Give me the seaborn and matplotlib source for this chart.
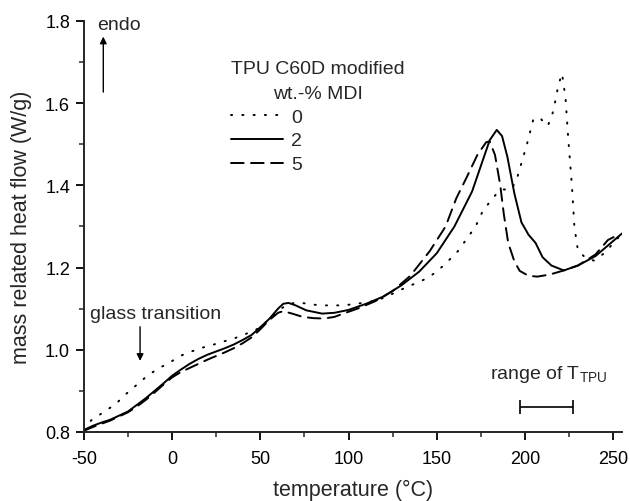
import numpy as np
import pandas as pd
import seaborn as sns
from matplotlib import pyplot as plt
from matplotlib.ticker import MultipleLocator, FormatStrFormatter

# values (temperature in degC, heat flow in W/g)
T_0 = [-50, -46, -39, -32, -26, -20, -14, -8, -1, 4.5, 11, 17, 23, 29, 36, 42, 48, 54, 60,
       66, 72, 78, 84, 97, 110, 116, 122, 129, 136, 144, 150, 156, 162, 167, 172, 176, 181,
       185, 188, 192, 195, 197, 201, 204.7, 208.6, 211, 213, 216, 219, 221, 223, 224.5,
       226.6, 228, 230, 234, 239, 245, 255]
HF_0 = [0.805, 0.828, 0.848, 0.868, 0.893, 0.915, 0.937, 0.954, 0.970, 0.985, 0.996, 1.005,
        1.012, 1.020, 1.029, 1.039, 1.050, 1.070, 1.095, 1.112, 1.115, 1.111, 1.108, 1.108,
        1.115, 1.120, 1.130, 1.145, 1.158, 1.173, 1.190, 1.214, 1.240, 1.270, 1.300, 1.337,
        1.365, 1.385, 1.390, 1.390, 1.410, 1.440, 1.498, 1.560, 1.565, 1.550, 1.545, 1.580,
        1.645, 1.672, 1.612, 1.515, 1.400, 1.300, 1.242, 1.225, 1.217, 1.235, 1.283]

T_2 = [-50, -45, -40, -35, -30, -25, -20, -15, -10, -5, 0, 5, 10, 15, 20, 25, 30, 35, 40, 45,
       50, 55, 60, 63, 66, 70, 76, 85, 92, 100, 110, 120, 130, 140, 150, 160, 170, 176, 180,
       184, 187, 190, 194, 198, 202, 206, 210, 215, 222, 230, 240, 255]
HF_2 = [0.805, 0.815, 0.823, 0.830, 0.840, 0.850, 0.866, 0.882, 0.900, 0.918, 0.937, 0.952,
        0.966, 0.978, 0.988, 0.996, 1.004, 1.013, 1.024, 1.036, 1.055, 1.075, 1.100, 1.112,
        1.114, 1.108, 1.096, 1.088, 1.090, 1.097, 1.112, 1.130, 1.157, 1.190, 1.235, 1.300,
        1.385, 1.460, 1.510, 1.535, 1.520, 1.470, 1.380, 1.310, 1.280, 1.260, 1.225, 1.205,
        1.193, 1.205, 1.228, 1.283]

T_5 = [-50, -45, -40, -35, -30, -25, -20, -15, -10, -5, 0, 5, 10, 15, 20, 25, 30, 35, 40, 45,
       50, 55, 60, 63, 68, 74, 80, 86, 92, 97, 105, 115, 125, 135, 146, 155, 161, 167, 173,
       178, 180, 183, 186, 188, 190.5, 194, 197, 202, 207, 214, 222, 230, 240, 247, 252]
HF_5 = [0.803, 0.812, 0.820, 0.828, 0.838, 0.848, 0.862, 0.878, 0.896, 0.915, 0.933, 0.946,
        0.956, 0.966, 0.976, 0.985, 0.994, 1.004, 1.016, 1.030, 1.050, 1.072, 1.090, 1.094,
        1.088, 1.080, 1.077, 1.076, 1.080, 1.088, 1.100, 1.118, 1.143, 1.180, 1.240, 1.300,
        1.368, 1.420, 1.474, 1.505, 1.507, 1.474, 1.400, 1.330, 1.260, 1.215, 1.192, 1.180,
        1.178, 1.183, 1.193, 1.205, 1.232, 1.267, 1.278]

MDI_LABELS = ["0", "2", "5"]
TPU_RANGE = (197, 227)

sns.set_style("ticks")
plt.rcParams['font.family'] = ['Liberation Sans', 'DejaVu Sans']
plt.rcParams['mathtext.fontset'] = 'custom'
plt.rcParams['mathtext.rm'] = 'Liberation Sans'
plt.rcParams['axes.unicode_minus'] = False
FS_TICK = 13
FS_TEXT = 14
FS_LABEL = 15.5

fig = plt.figure(figsize=(6.3, 5.02), dpi=100)
ax = fig.add_axes([0.1333, 0.1375, 0.854, 0.8187])

styles = [(0, (0.6, 5.2)), '-', (0, (6.5, 3.8))]
for T, HF, ls in zip([T_0, T_2, T_5], [HF_0, HF_2, HF_5], styles):
    df = pd.DataFrame({"T": T, "HF": HF})
    sns.lineplot(data=df, x="T", y="HF", ax=ax, color="black", linestyle=ls,
                 linewidth=1.4, dash_capstyle='round')

ax.xaxis.set_major_locator(MultipleLocator(50))
ax.xaxis.set_minor_locator(MultipleLocator(25))
ax.yaxis.set_major_locator(MultipleLocator(0.2))
ax.yaxis.set_minor_locator(MultipleLocator(0.1))
ax.yaxis.set_major_formatter(FormatStrFormatter('%.1f'))
ax.set_xlim(-50, 255)
ax.set_ylim(0.8, 1.8)
sns.despine(ax=ax)
for s in ["left", "bottom"]:
    ax.spines[s].set_linewidth(1.4)
ax.tick_params(which='major', length=6, width=1.3, labelsize=FS_TICK, colors='black')
ax.tick_params(axis='x', which='major', pad=7)
ax.tick_params(axis='y', which='major', pad=4)
ax.tick_params(which='minor', length=3.5, width=1.1)

ax.set_xlabel("temperature (°C)", fontsize=FS_LABEL)
ax.set_ylabel("mass related heat flow (W/g)", fontsize=FS_LABEL)
ax.xaxis.set_label_coords(0.5, -0.115)
ax.yaxis.set_label_coords(-0.097, 0.5)

leg = ax.legend(ax.get_lines()[:3], MDI_LABELS, title="TPU C60D modified\nwt.-% MDI",
                loc='upper left', bbox_to_anchor=(0.273, 0.905), frameon=False,
                fontsize=FS_TEXT, title_fontsize=FS_TEXT, handlelength=2.7, handletextpad=0.4,
                labelspacing=0.32, borderpad=0, borderaxespad=0, alignment='left')
leg.get_title().set_multialignment('center')
leg.get_title().set_linespacing(1.6)

ax.text(-42.5, 1.781, "endo", fontsize=FS_TEXT, va='baseline', ha='left')
ax.annotate("", xy=(-39.05, 1.762), xytext=(-39.05, 1.627),
            arrowprops=dict(arrowstyle='-|>', color='black', lw=1.0,
                            mutation_scale=10, shrinkA=0, shrinkB=0))

ax.text(-46.6, 1.078, "glass transition", fontsize=FS_TEXT, va='baseline', ha='left')
ax.annotate("", xy=(-18.2, 0.973), xytext=(-18.2, 1.056),
            arrowprops=dict(arrowstyle='-|>', color='black', lw=1.0,
                            mutation_scale=10, shrinkA=0, shrinkB=0))

ax.text(180.3, 0.932, r"range of T$_{\mathregular{TPU}}$", fontsize=FS_TEXT,
        va='baseline', ha='left')
mid = (TPU_RANGE[0] + TPU_RANGE[1]) / 2
ax.errorbar([mid], [0.86], xerr=[(TPU_RANGE[1] - TPU_RANGE[0]) / 2], fmt='none',
            ecolor='black', elinewidth=1.2, capsize=5, capthick=1.2)

fig.savefig("out.png", dpi=100)
